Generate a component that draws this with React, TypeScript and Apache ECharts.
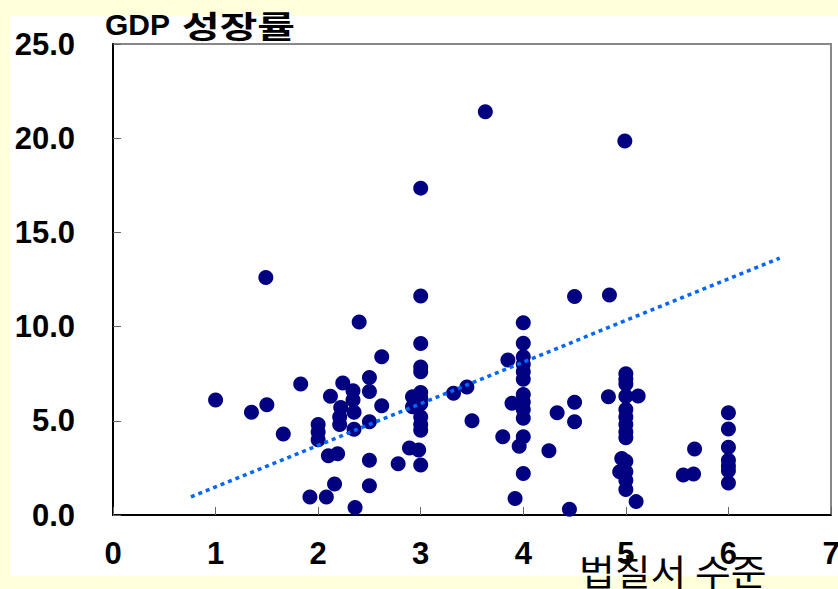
import React, { useEffect, useRef } from "react";
import * as echarts from "echarts";

const lawX = [
  1.0, 1.35, 1.5, 1.49, 1.66, 1.83, 1.92, 2.0, 2.0, 2.0, 2.08, 2.1, 2.19, 2.16, 2.12, 2.24, 2.34, 2.22, 2.34, 2.35,
  2.21, 2.21, 2.35, 2.36, 2.4, 2.5, 2.5, 2.5, 2.5, 2.5, 2.62, 2.62, 2.78, 2.89, 2.92, 2.92, 3.0, 3.0, 3.0, 3.0,
  3.0, 3.0, 3.0, 3.0, 3.0, 3.0, 3.0, 2.98, 3.0, 3.32, 3.45, 3.5, 3.63, 3.8, 3.85, 3.89, 3.92, 3.96, 4.0, 4.0,
  4.0, 4.0, 4.0, 4.0, 4.0, 4.0, 4.0, 4.0, 4.0, 4.0, 4.25, 4.33, 4.45, 4.5, 4.5, 4.5, 4.83, 4.84, 4.99, 5.0,
  5.0, 5.0, 5.0, 5.0, 5.0, 5.0, 5.0, 5.0, 4.96, 5.0, 4.94, 5.0, 5.0, 5.0, 5.12, 5.1, 5.56, 5.66, 5.67, 6.0,
  6.0, 6.0, 6.0, 6.0, 6.0, 6.0,
];
const gdpGrowth = [
  6.1, 5.45, 5.85, 12.6, 4.3, 6.95, 0.95, 4.8, 4.4, 4.0, 0.95, 3.15, 3.25, 1.65, 6.3, 7.0, 6.6, 5.7, 6.1, 5.45,
  5.2, 4.8, 4.55, 0.4, 10.25, 7.3, 6.55, 4.95, 2.9, 1.55, 8.4, 5.8, 2.72, 3.55, 6.28, 5.75, 17.35, 11.62, 9.1, 7.85,
  7.6, 6.5, 6.2, 5.9, 5.2, 4.8, 4.5, 3.45, 2.65, 6.46, 6.8, 5.0, 21.4, 4.15, 8.23, 5.93, 0.88, 3.65, 10.2, 9.12,
  8.4, 8.0, 7.6, 7.2, 6.4, 6.0, 5.6, 5.13, 4.15, 2.2, 3.41, 5.43, 0.3, 11.6, 5.98, 4.95, 6.28, 11.68, 19.85, 7.5,
  7.2, 6.95, 6.3, 5.6, 5.2, 4.8, 4.4, 4.1, 3.0, 2.85, 2.3, 2.3, 1.85, 1.35, 6.32, 0.71, 2.12, 2.18, 3.5, 5.43,
  4.56, 3.6, 2.9, 2.6, 2.35, 1.7,
];
const trendX = [0.76, 6.5];
const trendY = [0.96, 13.64];

const yTitleLatin = "GDP";
const yTitleKorean = "성장률";
const xTitle = "법칠서 수준";

const FONT = "Liberation Sans, Arial, sans-serif";
const KFONT = "Noto Sans CJK KR, sans-serif";

export default function App() {
  const ref = useRef<HTMLDivElement>(null);
  useEffect(() => {
    if (!ref.current) return;
    const chart = echarts.init(ref.current, null, { renderer: "svg" });
    chart.setOption({
      animation: false,
      backgroundColor: "#FFFFDC",
      title: {
        text: yTitleLatin,
        left: 105,
        top: 9,
        padding: 0,
        textStyle: {
          fontSize: 30,
          fontWeight: "bold",
          fontFamily: FONT,
          color: "#000",
          lineHeight: 30,
        },
      },
      graphic: [
        {
          type: "rect",
          z: -10,
          shape: { x: 10, y: 16, width: 828, height: 560 },
          style: { fill: "#FFFFFF" },
          silent: true,
        },
        {
          type: "text",
          x: 182,
          y: 24,
          z: 50,
          scaleX: 1.32,
          style: {
            text: yTitleKorean,
            fontSize: 31,
            fontWeight: "bold",
            fontFamily: KFONT,
            fill: "#000",
            verticalAlign: "middle",
          },
        },
        {
          type: "text",
          x: 579,
          y: 571,
          z: 50,
          scaleX: 1.08,
          style: {
            text: xTitle,
            fontSize: 36,
            fontWeight: "normal",
            fontFamily: KFONT,
            fill: "#000",
            verticalAlign: "middle",
          },
        },
      ],
      grid: {
        left: 113,
        top: 44,
        right: 7,
        bottom: 74,
        show: true,
        backgroundColor: "#FFFFFF",
        borderColor: "#888888",
        borderWidth: 2,
        outerBoundsMode: "none",
        containLabel: false,
      },
      xAxis: {
        type: "value",
        min: 0,
        max: 7,
        interval: 1,
        splitLine: { show: false },
        axisLine: { show: true, onZero: false, lineStyle: { color: "#000", width: 2 } },
        axisTick: { show: true, inside: true, length: 8, lineStyle: { color: "#666", width: 1 } },
        axisLabel: {
          margin: 23,
          fontSize: 31,
          fontWeight: "bold",
          fontFamily: FONT,
          color: "#000",
          hideOverlap: false,
          formatter: (v: number) => String(v),
        },
      },
      yAxis: {
        type: "value",
        min: 0,
        max: 25,
        interval: 5,
        splitLine: { show: false },
        axisLine: { show: true, onZero: false, lineStyle: { color: "#000", width: 2 } },
        axisTick: { show: true, inside: true, length: 8, lineStyle: { color: "#666", width: 1 } },
        axisLabel: {
          margin: 38,
          fontSize: 31,
          fontWeight: "bold",
          fontFamily: FONT,
          color: "#000",
          formatter: (v: number) => v.toFixed(1),
        },
      },
      series: [
        {
          type: "scatter",
          data: lawX.map((x, i) => [x, gdpGrowth[i]]),
          symbol: "circle",
          symbolSize: 15,
          itemStyle: { color: "#000080", opacity: 1 },
          z: 2,
        },
        {
          type: "line",
          data: trendX.map((x, i) => [x, trendY[i]]),
          showSymbol: false,
          symbol: "none",
          lineStyle: { color: "#0066FF", width: 3.5, type: [4, 4] },
          z: 3,
        },
      ],
    });
    return () => chart.dispose();
  }, []);
  return (
    <div
      ref={ref}
      style={{ position: "absolute", left: 0, top: 0, width: 838, height: 589 }}
    />
  );
}
